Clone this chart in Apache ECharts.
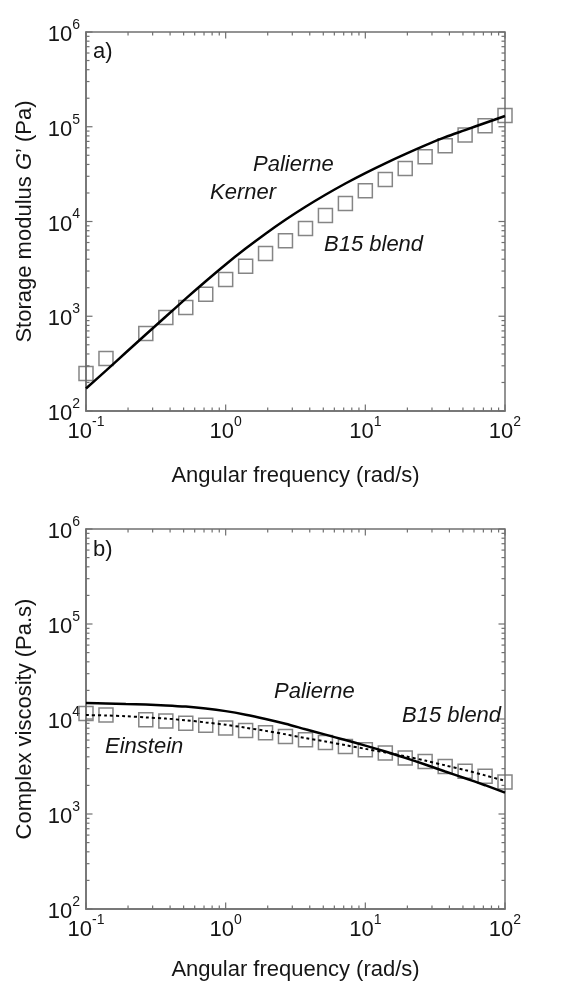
<!DOCTYPE html>
<html><head><meta charset="utf-8">
<script src="https://cdn.jsdelivr.net/npm/echarts@6/dist/echarts.min.js"></script>
<style>html,body{margin:0;padding:0;background:#fff}#c{width:571px;height:982px}</style>
</head><body><div id="c"></div>
<script>
// ---------- data ----------
const freqData = [0.1,0.139,0.268,0.373,0.518,0.72,1.0,1.39,1.93,2.68,3.73,5.18,7.2,10,13.9,19.3,26.8,37.3,51.8,72,100];
const gPrimeB15 = [249,358,658,970,1240,1711,2444,3380,4600,6270,8460,11580,15500,21100,27800,36300,48200,63000,81700,102600,131800];
const freqModel = [0.1,0.139,0.193,0.268,0.373,0.518,0.72,1.0,1.39,1.93,2.68,3.73,5.18,7.2,10,13.9,19.3,26.8,37.3,51.8,72,100];
const gPrimeModel = [173,267,414,641,993,1535,2344,3524,5176,7430,10420,14290,19140,25180,32430,41110,51400,63530,77620,92260,109650,129720];
const etaB15 = [11400,11000,9800,9550,9000,8600,8030,7550,7150,6560,6050,5670,5150,4750,4390,3880,3580,3170,2810,2490,2170];
const etaPalierne = [14700,14600,14400,14200,13900,13500,12900,12100,11100,10000,8900,7800,6850,6000,5250,4550,3900,3320,2800,2380,2010,1680];
const etaEinstein = [11000,10900,10700,10400,10100,9700,9200,8700,8100,7500,6900,6300,5800,5300,4850,4450,4050,3650,3250,2900,2550,2230];
const xTickExps = [-1,0,1,2];
const yTickExps = [2,3,4,5,6];
const minorMult = [2,3,4,5,6,7,8,9];

// ---------- helpers ----------
const FONT = '"Liberation Sans", Arial, sans-serif';
const FRAME = '#707070';
const TXT = '#151515';
const FS = 22;
const zip = (a,b) => a.map((v,i)=>[v,b[i]]);

function tickData(xMin, yMin){
  const d = [];
  xTickExps.forEach(e => d.push([Math.pow(10,e), yMin, 2]));
  yTickExps.forEach(e => d.push([xMin, Math.pow(10,e), 3]));
  xTickExps.slice(0,-1).forEach(e => minorMult.forEach(m => d.push([m*Math.pow(10,e), yMin, 0])));
  yTickExps.slice(0,-1).forEach(e => minorMult.forEach(m => d.push([xMin, m*Math.pow(10,e), 1])));
  return d;
}
function tickRender(params, api){
  const kind = api.value(2);
  const p = api.coord([api.value(0), api.value(1)]);
  const r = params.coordSys;
  const len = (kind===0||kind===1) ? 3.5 : 6.5;
  const segs = [];
  if (kind===0||kind===2){
    segs.push([p[0], r.y+r.height, p[0], r.y+r.height-len]);
    segs.push([p[0], r.y, p[0], r.y+len]);
  } else {
    segs.push([r.x, p[1], r.x+len, p[1]]);
    segs.push([r.x+r.width, p[1], r.x+r.width-len, p[1]]);
  }
  return {type:'group', children: segs.map(s=>({type:'line', shape:{x1:s[0],y1:s[1],x2:s[2],y2:s[3]}, style:{stroke:FRAME, lineWidth:1.2}}))};
}
const labelRich = {
  b:{fontSize:FS, fontFamily:FONT, color:TXT, lineHeight:28, verticalAlign:'bottom'},
  s:{fontSize:14, fontFamily:FONT, color:TXT, lineHeight:15, verticalAlign:'top'}
};
const powFmt = v => '{b|10}{s|' + Math.round(Math.log10(v)) + '}';

function xAxisCfg(gi, gap){
  return {type:'log', logBase:10, gridIndex:gi, min:0.1, max:100, interval:1,
    name:'Angular frequency (rad/s)', nameLocation:'middle', nameGap:gap,
    nameTextStyle:{fontSize:FS, fontFamily:FONT, color:TXT},
    axisLine:{show:true, lineStyle:{color:FRAME, width:1.5}},
    axisTick:{show:false}, minorTick:{show:false}, splitLine:{show:false},
    axisLabel:{formatter:powFmt, rich:labelRich, margin:4}};
}
function yAxisCfg(gi, name){
  return {type:'log', logBase:10, gridIndex:gi, min:100, max:1e6, interval:1,
    name:name, nameLocation:'middle', nameGap:50,
    nameTextStyle:{fontSize:FS, fontFamily:FONT, color:TXT, rich:{i:{fontSize:FS, fontFamily:FONT, color:TXT, fontStyle:'italic'}}},
    axisLine:{show:true, lineStyle:{color:FRAME, width:1.5}},
    axisTick:{show:false}, minorTick:{show:false}, splitLine:{show:false},
    axisLabel:{formatter:powFmt, rich:labelRich, margin:6}};
}
const squareStyle = {color:'rgba(0,0,0,0)', borderColor:'#666', borderWidth:1.5};

function annot(text, x, y, italic){
  return {type:'text', x:x, y:y, z:100, style:{text:text, fontSize:FS, fontFamily:FONT, fontStyle: italic?'italic':'normal', fill:TXT, align:'left', verticalAlign:'middle'}};
}

const chart = echarts.init(document.getElementById('c'), null, {renderer:'canvas'});
chart.setOption({
  backgroundColor:'#fff',
  animation:false,
  grid:[
    {left:86, top:32, width:419, height:379, show:true, borderColor:FRAME, borderWidth:1.5, outerBoundsMode:'none', containLabel:false},
    {left:86, top:529, width:419, height:380, show:true, borderColor:FRAME, borderWidth:1.5, outerBoundsMode:'none', containLabel:false}
  ],
  xAxis:[xAxisCfg(0, 54), xAxisCfg(1, 50)],
  yAxis:[yAxisCfg(0, 'Storage modulus {i|G}\u2019 (Pa)'), yAxisCfg(1, 'Complex viscosity (Pa.s)')],
  series:[
    {type:'custom', xAxisIndex:0, yAxisIndex:0, data:tickData(0.1,100), renderItem:tickRender, silent:true, z:1},
    {type:'custom', xAxisIndex:1, yAxisIndex:1, data:tickData(0.1,100), renderItem:tickRender, silent:true, z:1},
    {type:'scatter', name:'B15 blend', xAxisIndex:0, yAxisIndex:0, data:zip(freqData,gPrimeB15), symbol:'rect', symbolSize:14, itemStyle:squareStyle, z:2},
    {type:'line', name:'Palierne / Kerner', xAxisIndex:0, yAxisIndex:0, data:zip(freqModel,gPrimeModel), smooth:0.3, showSymbol:false, symbol:'none', lineStyle:{color:'#000', width:2.5}, z:3},
    {type:'scatter', name:'B15 blend', xAxisIndex:1, yAxisIndex:1, data:zip(freqData,etaB15), symbol:'rect', symbolSize:14, itemStyle:squareStyle, z:2},
    {type:'line', name:'Palierne', xAxisIndex:1, yAxisIndex:1, data:zip(freqModel,etaPalierne), smooth:0.3, showSymbol:false, symbol:'none', lineStyle:{color:'#000', width:2.5}, z:3},
    {type:'line', name:'Einstein', xAxisIndex:1, yAxisIndex:1, data:zip(freqModel,etaEinstein), smooth:0.3, showSymbol:false, symbol:'none', lineStyle:{color:'#000', width:2, type:[3,3]}, z:3}
  ],
  graphic:[
    annot('a)', 93, 52, false),
    annot('Palierne', 253, 165, true),
    annot('Kerner', 210, 193, true),
    annot('B15 blend', 324, 245, true),
    annot('b)', 93, 550, false),
    annot('Palierne', 274, 692, true),
    annot('B15 blend', 402, 716, true),
    annot('Einstein', 105, 747, true)
  ]
});
</script></body></html>
